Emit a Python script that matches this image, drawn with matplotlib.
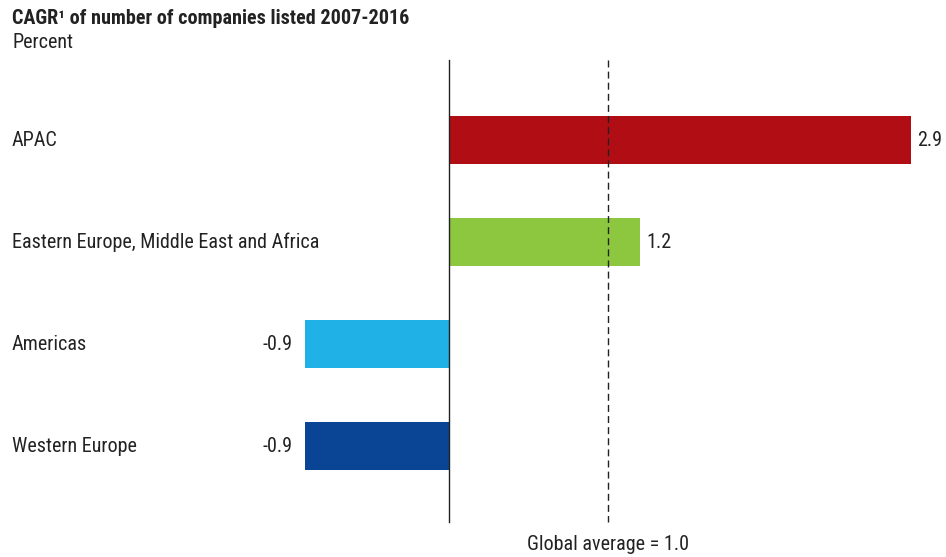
import matplotlib
matplotlib.use("Agg")
import matplotlib.pyplot as plt
import matplotlib.transforms as mtransforms

plt.rcParams['font.family'] = ['Roboto Condensed', 'DejaVu Sans']

# CAGR of number of listed companies, 2007-2016
regions = ["APAC", "Eastern Europe, Middle East and Africa", "Americas", "Western Europe"]
cagr = [2.9, 1.2, -0.9, -0.9]
colors = ["#B10D15", "#8DC63F", "#20B1E6", "#0A4595"]
global_avg = 1.0

TEXT = "#222222"
FS = 14.5

W, H = 946, 557
fig = plt.figure(figsize=(W / 100, H / 100), dpi=100)
ax = fig.add_axes([0, 0, 1, 1])

# pixel layout: zero at x=448.5, 159.5 px per percentage point,
# first bar centred at y=140, rows 102 px apart
x0, ppu = 448.5, 159.5
y0, row = 140, 102
ax.set_xlim(-x0 / ppu, (W - x0) / ppu)
ax.set_ylim((H - y0) / row, -y0 / row)
ax.axis("off")

pos = list(range(len(regions)))
ax.barh(pos, cagr, height=47.5 / row, color=colors, zorder=2)

y_top, y_bot = (60 - y0) / row, (522 - y0) / row
ax.plot([0, 0], [y_top, y_bot], color="#222222", lw=1.0, zorder=3)
ax.plot([global_avg, global_avg], [y_top, y_bot], color="#222222", lw=1.0,
        ls=(0, (5, 3)), zorder=4)

lbl_tr = mtransforms.blended_transform_factory(fig.transFigure, ax.transData)
for p, name, v in zip(pos, regions, cagr):
    ax.text(12 / W, p, name, transform=lbl_tr, ha="left", va="center",
            fontsize=FS, color=TEXT)
    if v >= 0:
        ax.annotate(f"{v:.1f}", (v, p), xytext=(6, 0), textcoords="offset pixels",
                    ha="left", va="center", fontsize=FS, color=TEXT)
    else:
        ax.annotate(f"{v:.1f}", (v, p), xytext=(-12, 0), textcoords="offset pixels",
                    ha="right", va="center", fontsize=FS, color=TEXT)

ax.annotate(f"Global average = {global_avg:.1f}", (global_avg, y_bot),
            xytext=(0, -23), textcoords="offset pixels", ha="center", va="center",
            fontsize=FS, color=TEXT)

fig.text(12 / W, 1 - 18 / H, "CAGR¹ of number of companies listed 2007-2016",
         ha="left", va="center", fontsize=FS, fontweight="bold", color=TEXT)
fig.text(12 / W, 1 - 43 / H, "Percent", ha="left", va="center",
         fontsize=FS, color=TEXT)

fig.savefig("out.png", dpi=100, facecolor="white")
